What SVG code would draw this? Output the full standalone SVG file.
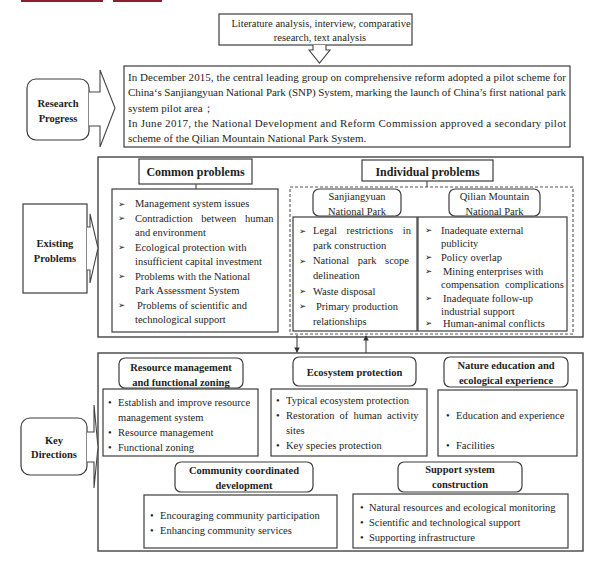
<svg xmlns="http://www.w3.org/2000/svg" width="600" height="564" viewBox="0 0 600 564">
<style>
text{font-family:"Liberation Serif","Times New Roman",serif;fill:#1e1e1e;}
.b{font-weight:bold;font-size:10.5px;text-anchor:middle;}
.h{font-weight:bold;font-size:12px;text-anchor:middle;}
.t{font-size:10.5px;}
.c{font-size:10.5px;text-anchor:middle;}
.r{font-size:11px;}
.box{fill:#fff;stroke:#3c3c3c;stroke-width:1.2;}
.big{fill:#fff;stroke:#444;stroke-width:1.4;}
.dash{fill:none;stroke:#555;stroke-width:1.1;stroke-dasharray:3 2;}
.ln{fill:none;stroke:#444;stroke-width:1.1;}
.arr{fill:#fff;stroke:#444;stroke-width:1.1;stroke-linejoin:miter;}
.bul{font-family:"DejaVu Sans",sans-serif;font-size:8.5px;}
</style>
<defs>
<marker id="ah" viewBox="0 0 6 6" refX="5" refY="3" markerWidth="5" markerHeight="5" orient="auto">
<path d="M0,0 L6,3 L0,6 Z" fill="#333"/>
</marker>
</defs>
<rect width="600" height="564" fill="#fff"/>
<rect x="21" y="0" width="82" height="2" fill="#8c1d33"/>
<rect x="113" y="0" width="49" height="2" fill="#8c1d33"/>

<g id="methods">
<rect class="box" x="219" y="14" width="193" height="31"/>
<text class="c" x="321" y="27">Literature analysis, interview, comparative</text>
<text class="c" x="320" y="40.5">research, text analysis</text>
</g>

<g id="research-progress">
<rect class="box" x="27" y="79" width="62" height="61" rx="9"/>
<text class="b" x="58" y="107">Research</text>
<text class="b" x="58" y="122">Progress</text>
</g>

<g id="research-text">
<rect class="box" x="124" y="66" width="446" height="81"/>
<text class="r" x="128" y="80.5" textLength="438" lengthAdjust="spacing">In December 2015, the central leading group on comprehensive reform adopted a pilot scheme for</text>
<text class="r" x="128" y="96" textLength="438" lengthAdjust="spacing">China‘s Sanjiangyuan National Park (SNP) System, marking the launch of China’s first national park</text>
<text class="r" x="128" y="111.5">system pilot area；</text>
<text class="r" x="128" y="126.5" textLength="438" lengthAdjust="spacing">In June 2017, the National Development and Reform Commission approved a secondary pilot</text>
<text class="r" x="128" y="141.5">scheme of the Qilian Mountain National Park System.</text>
</g>

<g id="existing-problems">
<rect class="box" x="23" y="204" width="64" height="89"/>
<text class="b" x="55" y="246.5">Existing</text>
<text class="b" x="55" y="262">Problems</text>
</g>

<g id="problems-panel">
<rect class="big" x="98" y="157" width="485" height="180"/>
</g>

<g id="common-problems">
<rect class="box" x="139" y="159" width="113" height="25"/>
<text class="h" x="195.5" y="176">Common problems</text>
<rect class="box" x="112" y="189" width="166" height="143"/>
<g class="t">
<text class="bul" x="118" y="206.5">➢</text><text x="135" y="207">Management system issues</text>
<text class="bul" x="118" y="221">➢</text><text x="135" y="221.5" word-spacing="6">Contradiction between human</text>
<text x="135" y="236">and environment</text>
<text class="bul" x="118" y="250">➢</text><text x="135" y="250.5">Ecological protection with</text>
<text x="135" y="265">insufficient capital investment</text>
<text class="bul" x="118" y="279">➢</text><text x="135" y="279.5">Problems with the National</text>
<text x="135" y="294">Park Assessment System</text>
<text class="bul" x="118" y="308">➢</text><text x="137" y="308.5">Problems of scientific and</text>
<text x="135" y="323">technological support</text>
</g>
</g>

<g id="individual-problems">
<rect class="box" x="362" y="160" width="131" height="21"/>
<text class="h" x="427.5" y="175.5">Individual problems</text>
<rect class="dash" x="290" y="187" width="283" height="147"/>
</g>

<g id="sanjiangyuan">
<rect class="box" x="313" y="189" width="88" height="27" rx="6"/>
<text class="c" x="357" y="200">Sanjiangyuan</text>
<text class="c" x="357" y="214.5">National Park</text>
<rect class="box" x="293" y="217" width="124" height="114"/>
<g class="t">
<text class="bul" x="299" y="233.5">➢</text><text x="313" y="234" word-spacing="7">Legal restrictions in</text>
<text x="313" y="249">park construction</text>
<text class="bul" x="299" y="263.5">➢</text><text x="313" y="264" word-spacing="6">National park scope</text>
<text x="313" y="279">delineation</text>
<text class="bul" x="299" y="294">➢</text><text x="313" y="294.5">Waste disposal</text>
<text class="bul" x="299" y="309">➢</text><text x="316" y="309.5">Primary production</text>
<text x="313" y="325">relationships</text>
</g>
</g>

<g id="qilian">
<rect class="box" x="449" y="189" width="91" height="27" rx="6"/>
<text class="c" x="494.5" y="200">Qilian Mountain</text>
<text class="c" x="494.5" y="214.5">National Park</text>
<rect class="box" x="418" y="217" width="149" height="114"/>
<g class="t">
<text class="bul" x="425" y="233">➢</text><text x="441" y="233.5">Inadequate external</text>
<text x="441" y="247">publicity</text>
<text class="bul" x="425" y="260">➢</text><text x="441" y="260.5">Policy overlap</text>
<text class="bul" x="425" y="274">➢</text><text x="443" y="274.5">Mining enterprises with</text>
<text x="441" y="288" word-spacing="3">compensation complications</text>
<text class="bul" x="425" y="301">➢</text><text x="443" y="301.5">Inadequate follow-up</text>
<text x="441" y="314.5">industrial support</text>
<text class="bul" x="425" y="326">➢</text><text x="443" y="326.5">Human-animal conflicts</text>
</g>
</g>

<g id="key-directions">
<rect class="box" x="21" y="418" width="66" height="57" rx="9"/>
<text class="b" x="54" y="443.5">Key</text>
<text class="b" x="54" y="458">Directions</text>
</g>

<g id="directions-panel">
<rect class="big" x="98" y="353" width="485" height="198"/>
</g>

<g id="resource-management">
<rect class="box" x="119" y="358" width="124" height="30" rx="6"/>
<text class="b" x="181" y="370.5">Resource management</text>
<text class="b" x="181" y="385.5">and functional zoning</text>
<rect class="box" x="103" y="389" width="155" height="67"/>
<g class="t">
<text x="108" y="405.5">•</text><text x="118" y="405.5">Establish and improve resource</text>
<text x="118" y="420.5">management system</text>
<text x="108" y="435.5">•</text><text x="118" y="435.5">Resource management</text>
<text x="108" y="451">•</text><text x="118" y="451">Functional zoning</text>
</g>
</g>

<g id="ecosystem-protection">
<rect class="box" x="293" y="357" width="123" height="29" rx="6"/>
<text class="b" x="354.5" y="375.5">Ecosystem protection</text>
<rect class="box" x="271" y="389" width="156" height="67"/>
<g class="t">
<text x="276" y="403.5">•</text><text x="286" y="403.5">Typical ecosystem protection</text>
<text x="276" y="418.5">•</text><text x="286" y="418.5" word-spacing="2.5">Restoration of human activity</text>
<text x="286" y="433.5">sites</text>
<text x="276" y="448.5">•</text><text x="286" y="448.5">Key species protection</text>
</g>
</g>

<g id="nature-education">
<rect class="box" x="444" y="357" width="124" height="30" rx="6"/>
<text class="b" x="506" y="368.5">Nature education and</text>
<text class="b" x="506" y="383.5">ecological experience</text>
<rect class="box" x="438" y="390" width="139" height="66"/>
<g class="t">
<text x="446" y="418.5">•</text><text x="456" y="418.5">Education and experience</text>
<text x="446" y="448.5">•</text><text x="456" y="448.5">Facilities</text>
</g>
</g>

<g id="community-development">
<rect class="box" x="175" y="462" width="138" height="30" rx="6"/>
<text class="b" x="244" y="473.5">Community coordinated</text>
<text class="b" x="244" y="488.5">development</text>
<rect class="box" x="144" y="495" width="193" height="53"/>
<g class="t">
<text x="150" y="518.5">•</text><text x="160" y="518.5">Encouraging community participation</text>
<text x="150" y="533.5">•</text><text x="160" y="533.5">Enhancing community services</text>
</g>
</g>

<g id="support-system">
<rect class="box" x="398" y="462" width="124" height="30" rx="6"/>
<text class="b" x="460" y="472.5">Support system</text>
<text class="b" x="460" y="487.5">construction</text>
<rect class="box" x="353" y="494" width="215" height="54"/>
<g class="t">
<text x="360" y="510.5">•</text><text x="369" y="510.5">Natural resources and ecological monitoring</text>
<text x="360" y="525.5">•</text><text x="369" y="525.5">Scientific and technological support</text>
<text x="360" y="540.5">•</text><text x="369" y="540.5">Supporting infrastructure</text>
</g>
</g>

<g id="connectors">
<path class="arr" d="M313,45 V50 H309 L319.5,63 L330,50 H326 V45"/>
<path class="arr" d="M89,92 H100 V70 L115,108 L100,147 V126 H89"/>
<path class="arr" d="M87,227 H90 V214 L98,248 L90,283 V270 H87"/>
<path class="arr" d="M87,432 H94 V405 L98,447 L94,488 V462 H87"/>
<line class="ln" x1="196" y1="184" x2="196" y2="189"/>
<line class="ln" x1="427" y1="181" x2="427" y2="187"/>
<line class="ln" x1="297" y1="335" x2="297" y2="352" marker-end="url(#ah)"/>
<line class="ln" x1="366" y1="353" x2="366" y2="336" marker-end="url(#ah)"/>
</g>
</svg>
